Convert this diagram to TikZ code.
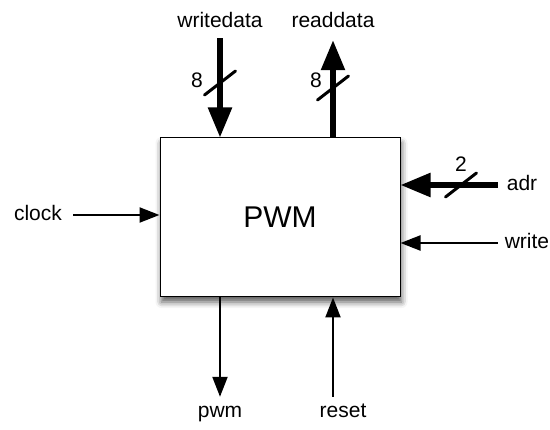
\documentclass[tikz,border=0pt]{standalone}
\usepackage{fontspec}
\setmainfont{Liberation Sans}
\usetikzlibrary{arrows.meta,shadows.blur}
\begin{document}
\begin{tikzpicture}[x=1pt,y=-1pt,
 block/.style={draw,line width=1pt,fill=white,minimum width=240pt,minimum height=159pt,
  blur shadow={shadow xshift=1.5pt,shadow yshift=-5pt,shadow blur radius=6pt,shadow opacity=65},
  font=\fontsize{30}{36}\selectfont},
 sigtext/.style={inner sep=0pt,text height=15pt,text depth=4pt,font=\fontsize{21}{25}\selectfont},
 bus/.style={line width=5.5pt,-{Triangle[length=30pt,width=23pt]}},
 sig/.style={line width=2.2pt,-{Triangle[length=20pt,width=15pt]}},
 slash/.style={line width=3pt,line cap=round}]

	\useasboundingbox (0,0) rectangle (550,430);

	\node[block] (block) at (280,217.5) {PWM};

	\node[sigtext] (writedata) at (220,22.5) {writedata};
	\node[sigtext] (readdata) at (333,22.5) {readdata};
	\node[sigtext] (clock) at (38,215) {clock};
	\node[sigtext] (adr) at (522,185) {adr};
	\node[sigtext] (write) at (527,243) {write};
	\node[sigtext] (pwm) at (220,412.5) {pwm};
	\node[sigtext] (reset) at (343,412.5) {reset};
	\coordinate (reset-in) at ([xshift=-10pt]reset.north);

	\node[sigtext] (wd-n) at (197,82.5) {8};
	\node[sigtext] (rd-n) at (316,82.5) {8};
	\node[sigtext] (adr-n) at (461,166.5) {2};
	\coordinate (wd-bar) at (220,83);
	\coordinate (rd-bar) at (333,88);
	\coordinate (adr-bar) at (461,185);

	\draw[bus,shorten <=6pt] (writedata) -- (writedata |- block.north);
	\draw[bus,shorten >=8pt] (block.north -| readdata) -- (readdata);
	\draw[bus,shorten <=9pt] (adr) -- (adr -| block.east);
	\draw[sig,shorten <=7pt] (write) -- (write -| block.east);
	\draw[sig,shorten <=11pt] (clock) -- (clock -| block.west);
	\draw[sig,shorten >=6pt] (block.south -| pwm) -- (pwm);
	\draw[sig,shorten <=6pt] (reset-in) -- (reset-in |- block.south);

	\draw[slash] (wd-bar) ++(-15.5,12) -- ++(31,-24);
	\draw[slash] (rd-bar) ++(-15.5,12) -- ++(31,-24);
	\draw[slash] (adr-bar) ++(-15.5,12) -- ++(31,-24);
\end{tikzpicture}
\end{document}
